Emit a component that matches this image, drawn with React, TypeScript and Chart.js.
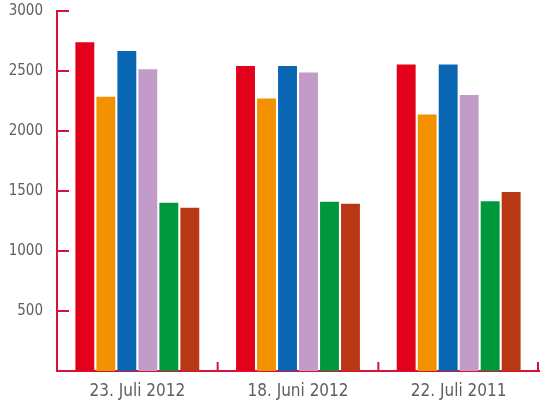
import React, { useEffect, useRef } from "react";
import { Chart, registerables } from "chart.js";

Chart.register(...registerables);

const categories = ["23. Juli 2012", "18. Juni 2012", "22. Juli 2011"];
const serieRot = [2740, 2542, 2555];
const serieOrange = [2285, 2270, 2138];
const serieBlau = [2667, 2542, 2555];
const serieFlieder = [2514, 2488, 2300];
const serieGruen = [1402, 1410, 1415];
const serieBraun = [1360, 1393, 1492];
const yTicks = [500, 1000, 1500, 2000, 2500, 3000];

const AXIS = "#d4123c";
const TEXT = "#5f5f5f";
const FONT = "'DejaVu Sans Condensed', 'DejaVu Sans', sans-serif";

const innerTicks = {
  id: "innerTicks",
  afterDraw(chart: any) {
    const { ctx, chartArea, scales } = chart;
    const y = scales.y;
    const x = scales.x;
    ctx.save();
    ctx.strokeStyle = AXIS;
    ctx.lineWidth = 2;
    ctx.beginPath();
    yTicks.forEach((v) => {
      const py = Math.round(y.getPixelForValue(v));
      ctx.moveTo(chartArea.left, py);
      ctx.lineTo(chartArea.left + 12, py);
    });
    for (let i = 0; i < categories.length; i++) {
      const px =
        i < categories.length - 1
          ? (x.getPixelForValue(i) + x.getPixelForValue(i + 1)) / 2
          : chartArea.right - 1;
      ctx.moveTo(px, chartArea.bottom);
      ctx.lineTo(px, chartArea.bottom - 9);
    }
    ctx.stroke();
    ctx.restore();
  },
};

export default function App() {
  const canvasRef = useRef<HTMLCanvasElement>(null);

  useEffect(() => {
    let chart: Chart | null = null;
    if (canvasRef.current) {
      const ds = (data: number[], color: string) => ({
        data,
        backgroundColor: color,
        categoryPercentage: 0.784,
        barPercentage: 0.9,
      });
      // @ts-ignore
      chart = new Chart(canvasRef.current, {
        type: "bar",
        data: {
          labels: categories,
          datasets: [
            ds(serieRot, "#e3001b"),
            ds(serieOrange, "#f39200"),
            ds(serieBlau, "#0866b2"),
            ds(serieFlieder, "#c29bc9"),
            ds(serieGruen, "#00983d"),
            ds(serieBraun, "#b83816"),
          ],
        },
        plugins: [innerTicks],
        options: {
          animation: false,
          responsive: false,
          events: [],
          layout: { padding: { top: 0, right: 7, left: 0, bottom: 0 } },
          plugins: {
            legend: { display: false },
            tooltip: { enabled: false },
          },
          scales: {
            x: {
              grid: { display: false },
              border: { color: AXIS, width: 2 },
              ticks: {
                color: TEXT,
                font: { family: FONT, size: 17 },
                padding: 2,
              },
              afterFit: (s: any) => {
                s.height = 29;
              },
            },
            y: {
              min: 0,
              max: 3000,
              grid: { display: false },
              border: { color: AXIS, width: 2 },
              ticks: {
                stepSize: 500,
                color: TEXT,
                font: { family: FONT, size: 15 },
                padding: 6,
                callback: (v: any) => (v === 0 ? "" : String(v)),
              },
              afterFit: (s: any) => {
                s.width = 57;
                s.paddingTop = 11;
              },
            },
          },
        },
      });
    }
    return () => {
      if (chart) chart.destroy();
    };
  }, []);

  return (
    <div style={{ position: "fixed", left: 0, top: 0, width: 546, height: 400, background: "#fff" }}>
      <canvas ref={canvasRef} width={546} height={400} style={{ width: 546, height: 400 }} />
    </div>
  );
}
